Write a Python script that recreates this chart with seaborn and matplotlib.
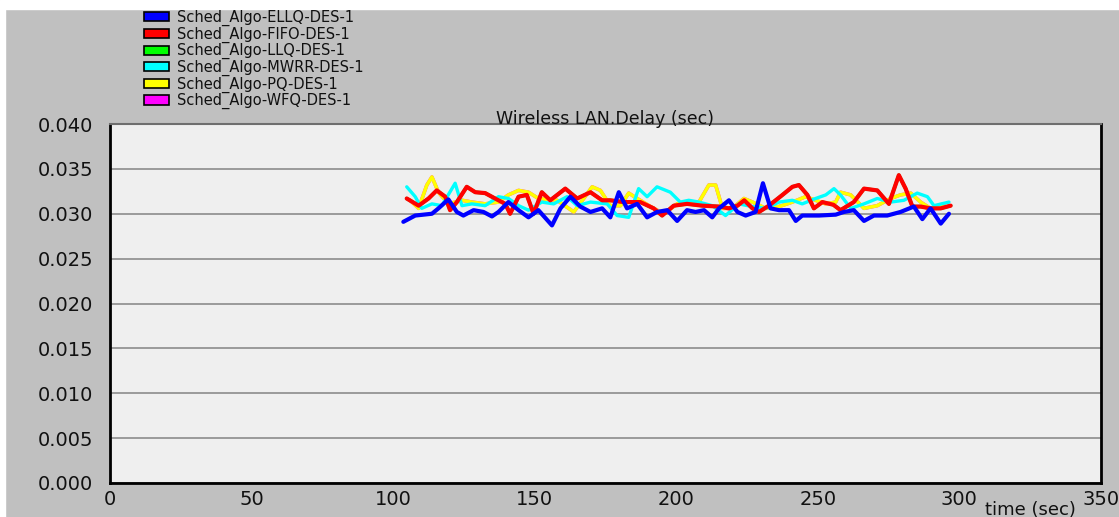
"""
Wireless LAN delay per scheduling algorithm (OPNET style chart)
"""
import matplotlib
matplotlib.use("Agg")
import matplotlib.pyplot as plt
from matplotlib.patches import Rectangle, Patch
import seaborn as sns
import pandas as pd

# ELLQ (blue)
ellq_t = [103.6, 107.8, 113.7, 116, 119.5, 122.5, 124.8, 128.4, 131.9, 134.9, 137.2, 140.7, 144.3,
          147.8, 151.3, 156.1, 159.1, 162.6, 166.1, 169.7, 173.8, 176.7, 179.7, 182.6, 186.2, 189.7,
          193.2, 196.8, 200.3, 203.8, 206.8, 209.8, 212.7, 215.1, 218.6, 221.6, 224.5, 228, 230.6,
          233.3, 236.3, 239.8, 242.2, 244.5, 250.4, 256.3, 259.2, 262.7, 266.3, 269.8, 274.5, 279.2,
          283.9, 286.9, 289.8, 293.4, 296.3]
ellq_v = [0.0291, 0.0298, 0.0300, 0.0306, 0.0316, 0.0302, 0.0298, 0.0304, 0.0302, 0.0297, 0.0302,
          0.0313, 0.0304, 0.0296, 0.0304, 0.0287, 0.0306, 0.0319, 0.0308, 0.0302, 0.0306, 0.0296,
          0.0324, 0.0306, 0.0311, 0.0296, 0.0302, 0.0304, 0.0292, 0.0304, 0.0302, 0.0304, 0.0296,
          0.0306, 0.0315, 0.0302, 0.0298, 0.0302, 0.0334, 0.0306, 0.0304, 0.0304, 0.0292, 0.0298,
          0.0298, 0.0299, 0.0302, 0.0304, 0.0292, 0.0298, 0.0298, 0.0302, 0.0308, 0.0294, 0.0306,
          0.0289, 0.0300]

# FIFO (red)
fifo_t = [104.8, 109, 112.5, 115.4, 118.4, 120.1, 122.5, 126, 129, 132.5, 136, 139.6, 141.3, 144.3,
          147.2, 149.6, 152.5, 155.5, 160.8, 165, 169.7, 173.8, 176.7, 181.4, 187.3, 192, 195, 199.1,
          203.8, 209.2, 215.1, 218.6, 221.6, 224, 226.9, 229.2, 232.7, 237.5, 241, 243.3, 246.3, 248.6,
          251.6, 255.5, 258, 262.7, 266.3, 271, 275.1, 278.6, 281, 283.4, 286.3, 289.8, 293.4, 296.9]
fifo_v = [0.0317, 0.0309, 0.0317, 0.0326, 0.0319, 0.0304, 0.0313, 0.0330, 0.0324, 0.0323, 0.0317,
          0.0311, 0.0300, 0.0319, 0.0321, 0.0300, 0.0324, 0.0315, 0.0328, 0.0317, 0.0324, 0.0315,
          0.0315, 0.0313, 0.0313, 0.0306, 0.0298, 0.0309, 0.0311, 0.0309, 0.0308, 0.0306, 0.0309,
          0.0315, 0.0306, 0.0302, 0.0309, 0.0321, 0.0330, 0.0332, 0.0321, 0.0306, 0.0313, 0.0310,
          0.0304, 0.0313, 0.0328, 0.0326, 0.0311, 0.0343, 0.0328, 0.0308, 0.0308, 0.0306, 0.0306,
          0.0309]

# MWRR (cyan)
mwrr_t = [104.8, 107.8, 110.1, 113.7, 117.2, 121.9, 124.3, 127.8, 132.5, 137.2, 140.7, 144.3, 147.8,
          152.5, 156.7, 161.4, 165, 169.7, 175.6, 179.1, 183.2, 186.7, 189.7, 193.2, 197.9, 201.4,
          204.4, 208, 212.7, 217.4, 222.1, 226.9, 231.6, 236.3, 241, 244.5, 249.2, 252.8, 255.7, 258,
          261.6, 266.3, 271, 275.7, 280.4, 285.1, 288.7, 291, 296.3]
mwrr_v = [0.0330, 0.0319, 0.0306, 0.0311, 0.0309, 0.0334, 0.0309, 0.0311, 0.0309, 0.0319, 0.0317,
          0.0309, 0.0304, 0.0313, 0.0311, 0.0319, 0.0309, 0.0313, 0.0311, 0.0298, 0.0296, 0.0328,
          0.0319, 0.0330, 0.0324, 0.0313, 0.0315, 0.0313, 0.0309, 0.0298, 0.0311, 0.0308, 0.0306,
          0.0313, 0.0315, 0.0311, 0.0317, 0.0321, 0.0328, 0.0321, 0.0306, 0.0311, 0.0317, 0.0313,
          0.0315, 0.0323, 0.0319, 0.0309, 0.0313]

# PQ (yellow)
pq_t = [106, 109, 111.9, 113.7, 116, 119.5, 124.3, 127.8, 132.5, 137.2, 140.7, 144.3, 147.8, 151.3,
        157.9, 163.8, 167.3, 170.3, 173.2, 176.7, 180.3, 183.2, 186.2, 190.9, 195.6, 200.3, 204.4,
        208, 211.5, 213.9, 216.3, 219.8, 223.9, 226.9, 231.6, 236.3, 241, 245.7, 249.2, 252.8, 256.3,
        258, 261.6, 266.3, 271, 275.7, 279.2, 282.8, 286.3, 289.8, 294.5]
pq_v = [0.0315, 0.0306, 0.0332, 0.0341, 0.0324, 0.0311, 0.0315, 0.0313, 0.0311, 0.0313, 0.0321,
        0.0326, 0.0324, 0.0317, 0.0315, 0.0302, 0.0317, 0.0330, 0.0326, 0.0309, 0.0309, 0.0323,
        0.0317, 0.0308, 0.0300, 0.0311, 0.0313, 0.0313, 0.0332, 0.0332, 0.0306, 0.0306, 0.0317,
        0.0313, 0.0306, 0.0308, 0.0313, 0.0319, 0.0315, 0.0311, 0.0313, 0.0324, 0.0321, 0.0306,
        0.0309, 0.0317, 0.0321, 0.0323, 0.0313, 0.0306, 0.0311]

# LLQ and WFQ are hidden under the other curves in the original chart
llq_t, llq_v = fifo_t, fifo_v
wfq_t, wfq_v = pq_t, pq_v

labels = ["Sched_Algo-ELLQ-DES-1", "Sched_Algo-FIFO-DES-1", "Sched_Algo-LLQ-DES-1",
          "Sched_Algo-MWRR-DES-1", "Sched_Algo-PQ-DES-1", "Sched_Algo-WFQ-DES-1"]
colors = ["#0000ff", "#ff0000", "#00ff00", "#00ffff", "#ffff00", "#ff00ff"]
y_ticks = [0.0, 0.005, 0.010, 0.015, 0.020, 0.025, 0.030, 0.035, 0.040]
x_ticks = [0, 50, 100, 150, 200, 250, 300, 350]

series = {
    labels[0]: (ellq_t, ellq_v),
    labels[1]: (fifo_t, fifo_v),
    labels[2]: (llq_t, llq_v),
    labels[3]: (mwrr_t, mwrr_v),
    labels[4]: (pq_t, pq_v),
    labels[5]: (wfq_t, wfq_v),
}

sns.set_style("white")
plt.rcParams["font.family"] = ["DejaVu Sans"]

W, H = 1119, 517
fig = plt.figure(figsize=(W / 100, H / 100), dpi=100, facecolor="#c0c0c0")
# white border on top and left like the screenshot
fig.patches.append(Rectangle((0, 1 - 9 / H), 1, 9 / H, transform=fig.transFigure,
                             color="white", zorder=0))
fig.patches.append(Rectangle((0, 0), 5 / W, 1, transform=fig.transFigure,
                             color="white", zorder=0))

ax = fig.add_axes([110 / W, 1 - 483 / H, (1101 - 110) / W, (483 - 124) / H])
ax.set_facecolor("#efefef")

# draw order: hidden ones first, blue on top
draw_order = [5, 2, 4, 3, 1, 0]
widths = {0: 3.0, 1: 3.0, 2: 2.5, 3: 2.4, 4: 2.6, 5: 2.5}
for i in draw_order:
    t, v = series[labels[i]]
    df = pd.DataFrame({"time": t, "delay": v})
    sns.lineplot(data=df, x="time", y="delay", color=colors[i], lw=widths[i],
                 estimator=None, ax=ax, zorder=3 + draw_order.index(i))

ax.set_xlim(0, 350)
ax.set_ylim(0, 0.040)
ax.set_xticks(x_ticks)
ax.set_yticks(y_ticks)
ax.set_yticklabels([f"{y:.3f}" for y in y_ticks])
ax.set_xlabel("")
ax.set_ylabel("")
ax.yaxis.grid(True, color="#8c8c8c", lw=1.2)
ax.xaxis.grid(False)
ax.tick_params(axis="both", direction="out", length=4, width=1.5, color="black",
               labelsize=14, labelcolor="#111111")
ax.tick_params(axis="y", pad=8)
ax.tick_params(axis="x", pad=1)
for side in ["left", "bottom", "right"]:
    ax.spines[side].set_color("black")
    ax.spines[side].set_linewidth(2)
ax.spines["top"].set_color("#6e6e6e")
ax.spines["top"].set_linewidth(1.5)

ax.set_title("Wireless LAN.Delay (sec)", fontsize=12.5, pad=0, color="#111111")
fig.text(1076 / W, 1 - 510 / H, "time (sec)", ha="right", va="center",
         fontsize=13, color="#111111")

handles = [Patch(facecolor=c, edgecolor="black", lw=1.2) for c in colors]
fig.legend(handles, labels, loc="upper left", bbox_to_anchor=(144 / W, 1 - 10 / H),
           frameon=False, fontsize=10.5, labelspacing=0.03, handlelength=1.7,
           handleheight=0.6, handletextpad=0.55, borderpad=0, borderaxespad=0,
           labelcolor="#111111")

fig.savefig("out.png", dpi=100, facecolor=fig.get_facecolor())
